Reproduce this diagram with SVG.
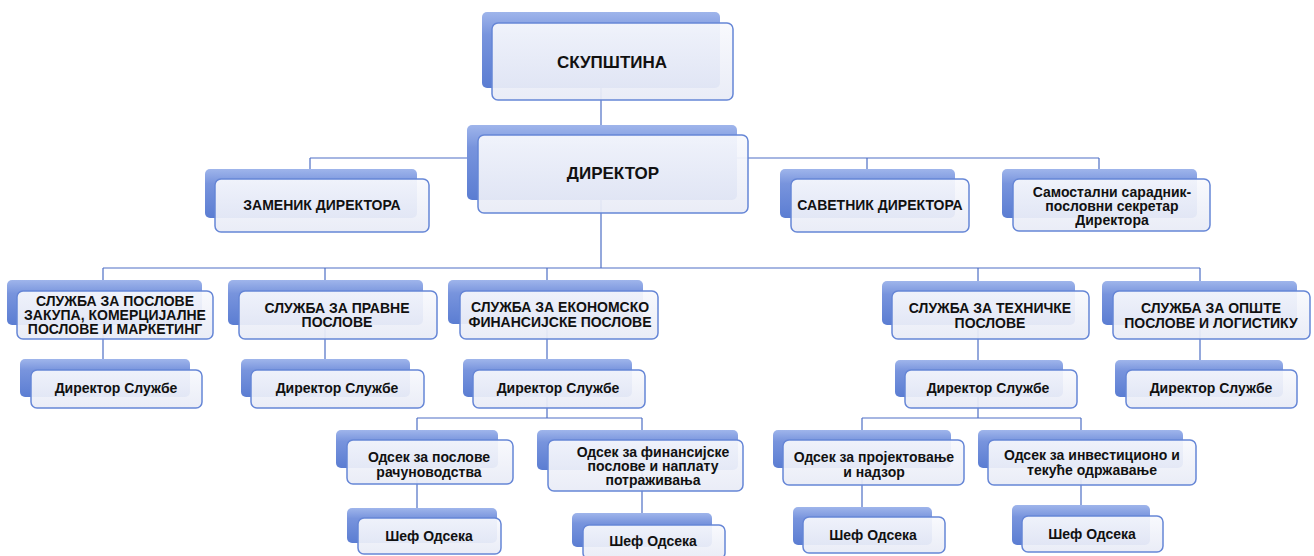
<svg xmlns="http://www.w3.org/2000/svg" width="1314" height="556" viewBox="0 0 1314 556">
<defs>
<linearGradient id="tabg" x1="0" y1="0" x2="0" y2="1">
<stop offset="0" stop-color="#9fb5eb"/>
<stop offset="0.3" stop-color="#7894dd"/>
<stop offset="1" stop-color="#5b7dd2"/>
</linearGradient>
<linearGradient id="faceg" x1="0" y1="0" x2="0" y2="1">
<stop offset="0" stop-color="#f8f9fd"/>
<stop offset="1" stop-color="#e8ebf6"/>
</linearGradient>
<style>
.tab{fill:url(#tabg);}
.face{fill:url(#faceg);fill-opacity:0.93;stroke:#6686d6;stroke-width:1.5;}
.t{font-family:"Liberation Sans",Arial,sans-serif;font-weight:bold;font-size:14px;fill:#111111;text-anchor:middle;}
.big{font-size:17px;}
.c{fill:none;stroke:#4e6fc5;stroke-width:1.2;}
</style>
</defs>
<rect width="1314" height="556" fill="#ffffff"/>
<g id="connectors">
<path class="c" d="M601,88 V135 M601,200 V268"/>
<path class="c" d="M310,158 H1099 M310,158 V179 M867,158 V179 M1099,158 V179"/>
<path class="c" d="M103,268 H1200 M103,268 V370 M325,268 V370 M547,268 V418 M978,268 V418 M1200,268 V370"/>
<path class="c" d="M417,418 H642 M417,418 V518 M642,418 V525"/>
<path class="c" d="M862,418 H1081 M862,418 V517 M1081,418 V516"/>
</g>
<g id="skupstina"><rect class="tab" x="482" y="12" width="238" height="76" rx="5"/><rect class="face" x="492" y="23" width="241" height="77" rx="6"/><text class="t big" x="612" y="68">СКУПШТИНА</text></g>
<g id="direktor"><rect class="tab" x="467" y="125" width="270" height="75" rx="5"/><rect class="face" x="478" y="135" width="270" height="78" rx="6"/><text class="t big" x="613" y="179">ДИРЕКТОР</text></g>
<g id="zamenik"><rect class="tab" x="205" y="169" width="212" height="49" rx="5"/><rect class="face" x="215" y="179" width="214" height="53" rx="6"/><text class="t" x="322" y="210">ЗАМЕНИК ДИРЕКТОРА</text></g>
<g id="savetnik"><rect class="tab" x="780" y="169" width="175" height="49" rx="5"/><rect class="face" x="791" y="179" width="178" height="53" rx="6"/><text class="t" x="880" y="210">САВЕТНИК ДИРЕКТОРА</text></g>
<g id="samostalni"><rect class="tab" x="1002" y="169" width="195" height="49" rx="5"/><rect class="face" x="1013" y="179" width="197" height="52" rx="6"/><text class="t" x="1112" y="197">Самостални сарадник-</text><text class="t" x="1112" y="211">пословни секретар</text><text class="t" x="1112" y="225">Директора</text></g>
<g id="sluzba1"><rect class="tab" x="7" y="280" width="195" height="45" rx="5"/><rect class="face" x="17" y="291" width="196" height="48" rx="6"/><text class="t" x="115" y="306">СЛУЖБА ЗА ПОСЛОВЕ</text><text class="t" x="115" y="320">ЗАКУПА, КОМЕРЦИЈАЛНЕ</text><text class="t" x="115" y="334">ПОСЛОВЕ И МАРКЕТИНГ</text></g>
<g id="sluzba2"><rect class="tab" x="228" y="280" width="195" height="45" rx="5"/><rect class="face" x="239" y="291" width="198" height="48" rx="6"/><text class="t" x="337" y="313">СЛУЖБА ЗА ПРАВНЕ</text><text class="t" x="337" y="327">ПОСЛОВЕ</text></g>
<g id="sluzba3"><rect class="tab" x="448" y="280" width="195" height="44" rx="5"/><rect class="face" x="460" y="291" width="198" height="48" rx="6"/><text class="t" x="560" y="312">СЛУЖБА ЗА ЕКОНОМСКО</text><text class="t" x="560" y="327">ФИНАНСИЈСКЕ ПОСЛОВЕ</text></g>
<g id="sluzba4"><rect class="tab" x="882" y="281" width="193" height="44" rx="5"/><rect class="face" x="892" y="291" width="197" height="48" rx="6"/><text class="t" x="990" y="313">СЛУЖБА ЗА ТЕХНИЧКЕ</text><text class="t" x="990" y="328">ПОСЛОВЕ</text></g>
<g id="sluzba5"><rect class="tab" x="1102" y="281" width="195" height="44" rx="5"/><rect class="face" x="1113" y="291" width="197" height="48" rx="6"/><text class="t" x="1211" y="313">СЛУЖБА ЗА ОПШТЕ</text><text class="t" x="1211" y="328">ПОСЛОВЕ И ЛОГИСТИКУ</text></g>
<g id="dir1"><rect class="tab" x="20" y="359" width="170" height="38" rx="5"/><rect class="face" x="31" y="370" width="171" height="38" rx="6"/><text class="t" x="116" y="393">Директор Службе</text></g>
<g id="dir2"><rect class="tab" x="241" y="359" width="169" height="38" rx="5"/><rect class="face" x="251" y="370" width="173" height="38" rx="6"/><text class="t" x="337" y="393">Директор Службе</text></g>
<g id="dir3"><rect class="tab" x="463" y="359" width="169" height="38" rx="5"/><rect class="face" x="473" y="370" width="172" height="38" rx="6"/><text class="t" x="558" y="393">Директор Службе</text></g>
<g id="dir4"><rect class="tab" x="895" y="360" width="168" height="37" rx="5"/><rect class="face" x="905" y="370" width="172" height="38" rx="6"/><text class="t" x="988" y="393">Директор Службе</text></g>
<g id="dir5"><rect class="tab" x="1115" y="360" width="168" height="37" rx="5"/><rect class="face" x="1126" y="370" width="171" height="38" rx="6"/><text class="t" x="1211" y="393">Директор Службе</text></g>
<g id="odsek1"><rect class="tab" x="336" y="430" width="162" height="38" rx="5"/><rect class="face" x="347" y="440" width="166" height="44" rx="6"/><text class="t" x="429" y="462">Одсек за послове</text><text class="t" x="429" y="477">рачуноводства</text></g>
<g id="odsek2"><rect class="tab" x="537" y="430" width="201" height="40" rx="5"/><rect class="face" x="548" y="440" width="195" height="51" rx="6"/><text class="t" x="653" y="457">Одсек за финансијске</text><text class="t" x="653" y="471">послове и наплату</text><text class="t" x="653" y="485">потраживања</text></g>
<g id="odsek3"><rect class="tab" x="773" y="430" width="178" height="38" rx="5"/><rect class="face" x="783" y="440" width="181" height="45" rx="6"/><text class="t" x="874" y="462">Одсек за пројектовање</text><text class="t" x="874" y="477">и надзор</text></g>
<g id="odsek4"><rect class="tab" x="978" y="430" width="205" height="38" rx="5"/><rect class="face" x="988" y="440" width="208" height="45" rx="6"/><text class="t" x="1092" y="460">Одсек за инвестиционо и</text><text class="t" x="1092" y="475">текуће одржавање</text></g>
<g id="sef1"><rect class="tab" x="347" y="508" width="150" height="35" rx="5"/><rect class="face" x="358" y="518" width="143" height="36" rx="6"/><text class="t" x="429" y="541">Шеф Одсека</text></g>
<g id="sef2"><rect class="tab" x="572" y="513" width="140" height="34" rx="5"/><rect class="face" x="583" y="525" width="142" height="34" rx="6"/><text class="t" x="653" y="546">Шеф Одсека</text></g>
<g id="sef3"><rect class="tab" x="793" y="507" width="139" height="38" rx="5"/><rect class="face" x="803" y="517" width="142" height="36" rx="6"/><text class="t" x="873" y="540">Шеф Одсека</text></g>
<g id="sef4"><rect class="tab" x="1012" y="505" width="138" height="40" rx="5"/><rect class="face" x="1022" y="516" width="141" height="36" rx="6"/><text class="t" x="1092" y="539">Шеф Одсека</text></g>
</svg>
